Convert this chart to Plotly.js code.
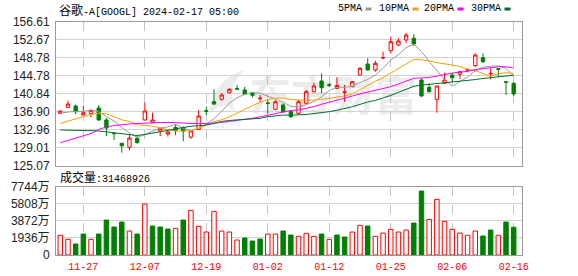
<!DOCTYPE html>
<html>
<head>
<meta charset="utf-8">
<script src="https://cdn.plot.ly/plotly-3.0.1.min.js"></script>
<style>html,body{margin:0;padding:0;background:#fff;}#chart{width:578px;height:276px;}</style>
</head>
<body>
<div id="chart"></div>
<script>
const dates = ["2023-11-21","2023-11-22","2023-11-24","2023-11-27","2023-11-28","2023-11-29","2023-11-30","2023-12-01","2023-12-04","2023-12-05","2023-12-06","2023-12-07","2023-12-08","2023-12-11","2023-12-12","2023-12-13","2023-12-14","2023-12-15","2023-12-18","2023-12-19","2023-12-20","2023-12-21","2023-12-22","2023-12-26","2023-12-27","2023-12-28","2023-12-29","2024-01-02","2024-01-03","2024-01-04","2024-01-05","2024-01-08","2024-01-09","2024-01-10","2024-01-11","2024-01-12","2024-01-16","2024-01-17","2024-01-18","2024-01-19","2024-01-22","2024-01-23","2024-01-24","2024-01-25","2024-01-26","2024-01-29","2024-01-30","2024-01-31","2024-02-01","2024-02-02","2024-02-05","2024-02-06","2024-02-07","2024-02-08","2024-02-09","2024-02-12","2024-02-13","2024-02-14","2024-02-15","2024-02-16"];
const openP  = [136.5,137.8,138.1,136.13,136.42,137.66,135.04,132.15,129.93,129.05,131.03,135.04,134.45,132.6,131.97,133.4,133.4,131.3,132.96,137.05,139.05,139.57,141.0,141.9,141.61,141.0,139.7,138.75,137.38,138.32,136.85,136.5,138.7,141.23,143.58,142.75,141.98,141.1,142.33,144.89,147.3,145.99,148.6,150.21,151.46,152.56,152.93,143.8,142.2,139.57,143.07,144.89,145.05,145.95,146.93,148.68,145.15,146.25,143.4,143.07];
const highP  = [137.1,139.26,138.4,138.2,137.2,138.32,135.47,132.2,130.0,131.75,131.75,138.83,136.63,133.3,132.7,133.95,133.6,132.8,137.23,137.95,141.76,140.88,141.98,142.7,142.3,141.2,140.5,139.4,139.4,138.7,137.2,139.4,141.6,143.2,145.26,143.1,144.4,142.7,143.6,146.6,148.55,148.0,149.99,153.28,152.93,154.1,153.87,144.17,143.07,142.5,145.4,145.4,145.84,146.36,149.65,149.6,146.36,146.36,143.5,143.3];
const lowP   = [136.35,137.75,136.35,136.1,135.63,134.88,131.53,130.66,127.87,128.47,129.9,134.97,134.38,131.53,131.4,131.7,130.4,130.9,132.9,136.1,138.32,139.26,140.88,141.6,140.5,140.0,139.05,136.5,137.2,136.6,135.5,136.35,138.5,141.17,140.88,142.25,141.9,139.0,142.2,144.7,145.9,145.6,148.33,149.65,151.24,151.9,151.24,140.14,141.02,136.63,143.0,143.42,144.02,145.48,146.7,147.52,143.95,144.39,140.51,140.29];
const closeP = [137.0,138.54,136.85,136.63,137.16,135.04,133.28,132.05,129.41,131.09,130.06,137.01,135.04,133.2,132.4,132.75,132.6,132.65,135.91,136.95,138.54,140.51,141.76,141.8,140.67,140.45,139.8,138.7,139.04,136.85,135.75,139.04,141.23,142.48,142.11,142.65,142.6,141.2,143.42,146.36,145.99,147.45,148.7,152.19,152.34,153.65,151.68,140.29,141.24,142.48,143.8,144.3,145.62,146.05,149.27,147.8,145.25,146.15,143.3,140.73];
// volume in 万 (10,000 shares)
const volume = [2230,1777,1245,2377,1777,2377,3962,3170,3735,2717,2377,5773,3283,3170,2943,3022,3962,5060,3249,2604,4947,2717,2604,1698,1924,1585,1811,2377,2377,2717,2264,2117,2457,2117,2377,1777,2264,2038,2604,3362,3283,2117,2490,2909,2604,2830,3622,7245,4041,6305,3815,2909,2490,2230,2717,2151,2830,2230,3735,3146.8926];
const volUp = [1,1,0,0,1,0,0,0,0,1,0,1,0,0,0,1,0,1,1,1,1,1,1,1,0,0,0,1,1,0,0,1,1,1,0,1,0,0,1,1,0,1,1,1,1,1,0,0,1,1,1,1,1,1,1,0,0,1,0,0];
const ma5  = [136.5,136.79,136.9,136.9,137.24,136.84,135.79,134.83,133.39,132.17,131.18,131.92,132.52,133.28,133.54,134.08,133.2,132.72,133.26,134.17,135.33,136.91,138.73,139.91,140.66,141.04,140.9,140.28,139.73,138.97,138.03,137.88,138.38,139.07,140.12,141.5,142.21,142.21,142.4,143.25,143.91,144.88,146.38,148.14,149.33,150.87,151.71,150.03,147.84,145.87,143.9,142.42,143.49,144.45,145.81,146.61,146.8,146.9,146.35,144.65];
const ma10 = [134.27,134.82,135.36,135.8,136.24,136.5,136.4,135.67,135.08,134.71,134.01,133.86,133.68,133.33,132.86,132.63,132.56,132.62,133.27,133.86,134.71,135.06,135.73,136.59,137.41,138.18,138.9,139.51,139.82,139.81,139.53,139.39,139.33,139.4,139.55,139.77,140.05,140.3,140.73,141.68,142.71,143.55,144.3,145.27,146.29,147.39,148.3,148.21,147.99,147.6,147.38,147.07,146.76,146.15,145.84,145.25,144.61,145.2,145.4,145.23];
const ma20 = [130.06,130.55,130.98,131.47,132.08,132.96,133.5,133.83,134.05,134.16,134.27,134.38,134.44,134.49,134.49,134.49,134.38,134.27,134.2,134.28,134.36,134.46,134.7,134.96,135.14,135.41,135.73,136.07,136.55,136.83,137.12,137.22,137.53,137.99,138.48,138.97,139.47,139.9,140.28,140.75,141.12,141.47,141.81,142.33,142.92,143.58,144.17,144.25,144.36,144.64,145.05,145.31,145.53,145.71,146.06,146.32,146.45,146.7,146.7,146.41];
const ma30 = [132.85,132.85,132.85,132.8,132.71,132.63,132.41,132.23,132.08,131.86,131.64,131.86,132.19,132.52,132.78,133.06,133.39,133.66,133.77,133.94,134.27,134.71,134.93,135.04,135.12,135.25,135.41,135.76,135.91,136.12,136.08,136.1,136.25,136.44,136.61,136.86,137.17,137.48,137.94,138.45,138.98,139.33,139.79,140.42,141.08,141.78,142.42,142.67,142.85,143.03,143.21,143.33,143.46,143.6,143.89,144.14,144.32,144.57,144.71,144.84];
const priceTickVals = [125.07,129.01,132.96,136.90,140.84,144.78,148.73,152.67,156.61];
const priceTickText = ["125.07","129.01","132.96","136.90","140.84","144.78","148.78","152.67","156.61"];
const volTickVals = [0,1936,3872,5808,7744];
const volTickText = ["0","1936万","3872万","5808万","7744万"];
const dateTickVals = ["2023-11-27","2023-12-07","2023-12-19","2024-01-02","2024-01-12","2024-01-25","2024-02-06","2024-02-16"];
const dateTickText = ["11-27","12-07","12-19","01-02","01-12","01-25","02-06","02-16"];
const maNames = ["5PMA","10PMA","20PMA","30PMA"];
const lastVolumeText = "31468926";
const titleText = "A[GOOGL] 2024-02-17 05:00";
const titleCJK = "谷歌-";

const RED = '#ff0000', GREEN = '#008000';
const maColors = ['#9a9a9a','#f5a000','#ff00ff','#006e30'];

const traces = [];
traces.push({
  type:'candlestick', x:dates, open:openP, high:highP, low:lowP, close:closeP,
  xaxis:'x', yaxis:'y', whiskerwidth:0,
  increasing:{line:{color:RED,width:1}, fillcolor:'#ffffff'},
  decreasing:{line:{color:GREEN,width:1}, fillcolor:GREEN},
  hoverinfo:'skip', showlegend:false
});
[ma5,ma10,ma20,ma30].forEach((m,k)=>{
  traces.push({type:'scatter', mode:'lines', x:dates, y:m, xaxis:'x', yaxis:'y',
    line:{color:maColors[k], width:1}, hoverinfo:'skip', showlegend:false});
});
traces.push({
  type:'bar', x:dates, y:volume, xaxis:'x2', yaxis:'y2', width:0.58,
  marker:{color:volUp.map(u=>u?'#ffffff':GREEN), line:{color:volUp.map(u=>u?RED:GREEN), width:1}},
  hoverinfo:'skip', showlegend:false
});

const L=56, R=522, T=21, B=255, W=R-L, H=B-T;
const px = v => (v-L)/W;
const py = v => (B-v)/H;

const axisCommon = {type:'category', range:[-0.56,60.08], tickvals:dateTickVals, ticktext:dateTickText,
  showgrid:true, gridcolor:'#c4c4c4', griddash:'dash', gridwidth:1, showline:true, mirror:true,
  linecolor:'#9a9a9a', linewidth:1, ticks:'', zeroline:false, fixedrange:true};

const wmSvg = "<svg xmlns='http://www.w3.org/2000/svg' width='230' height='50'>" +
  "<path d='M4,46 C8,22 20,6 40,2 C28,12 24,26 30,44 C22,34 16,36 4,46 Z' fill='#ececec'/>" +
  "<text x='44' y='43' font-family='Noto Sans CJK SC' font-weight='bold' font-size='42' fill='#ececec'>东方财富</text></svg>";

const annotations = [
  {xref:'paper', yref:'paper', x:px(57), y:py(10), xanchor:'left', yanchor:'middle', showarrow:false,
   text:'<span style="font-family:\'Noto Sans CJK SC\';font-size:12px">'+titleCJK.slice(0,2)+'</span>'+titleCJK.slice(2)+titleText,
   font:{family:'Liberation Mono', size:10, color:'#000'}},
  {xref:'paper', yref:'paper', x:px(58), y:py(176.7), xanchor:'left', yanchor:'middle', showarrow:false,
   text:'<span style="font-family:\'Noto Sans CJK SC\';font-size:12px">成交量</span>:'+lastVolumeText,
   font:{family:'Liberation Mono', size:10, color:'#000'}}
];
const legendRight = [363.5,410.5,455.5,502.5];
const shapes = [];
maNames.forEach((n,k)=>{
  annotations.push({xref:'paper', yref:'paper', x:px(legendRight[k]), y:py(9), xanchor:'right', yanchor:'middle',
    showarrow:false, text:n, font:{family:'Liberation Mono', size:10, color:'#000'}});
  shapes.push({type:'rect', xref:'paper', yref:'paper', x0:px(legendRight[k]+2), x1:px(legendRight[k]+8),
    y0:py(10.5), y1:py(7.5), fillcolor:maColors[k], line:{width:0}});
});

const layout = {
  width:578, height:276, margin:{l:L, r:578-R, t:T, b:276-B, pad:0},
  paper_bgcolor:'#ffffff', plot_bgcolor:'#ffffff', showlegend:false,
  boxgap:0.38, bargap:0.3,
  font:{family:'Liberation Sans, Noto Sans CJK SC', size:12, color:'#222'},
  xaxis:Object.assign({}, axisCommon, {anchor:'y', showticklabels:false, rangeslider:{visible:false}}),
  xaxis2:Object.assign({}, axisCommon, {anchor:'y2', showticklabels:true,
    tickfont:{family:'Liberation Mono', size:10, color:RED}, ticklabelstandoff:2}),
  yaxis:{domain:[py(165.5), py(21.5)], range:[125.07,156.61], tickvals:priceTickVals, ticktext:priceTickText,
    tickfont:{family:'Liberation Sans', size:12, color:'#222'}, showgrid:true, gridcolor:'#d4d4d4', gridwidth:1,
    showline:true, mirror:true, linecolor:'#9a9a9a', linewidth:1, ticks:'', zeroline:false, fixedrange:true, ticklabelstandoff:3},
  yaxis2:{domain:[0, py(186.7)], range:[0,7744], tickvals:volTickVals, ticktext:volTickText,
    tickfont:{family:'Liberation Sans, Noto Sans CJK SC', size:12, color:'#222'}, showgrid:true, gridcolor:'#d4d4d4', gridwidth:1,
    showline:true, mirror:true, linecolor:'#9a9a9a', linewidth:1, ticks:'', zeroline:false, fixedrange:true, ticklabelstandoff:3},
  annotations:annotations, shapes:shapes,
  images:[{source:'data:image/svg+xml;charset=utf-8,'+encodeURIComponent(wmSvg), xref:'paper', yref:'paper',
    x:px(205), y:py(68), sizex:230/W, sizey:50/H, sizing:'stretch', xanchor:'left', yanchor:'top', layer:'below', opacity:1}]
};

Plotly.newPlot('chart', traces, layout, {displayModeBar:false, staticPlot:true});
</script>
</body>
</html>
